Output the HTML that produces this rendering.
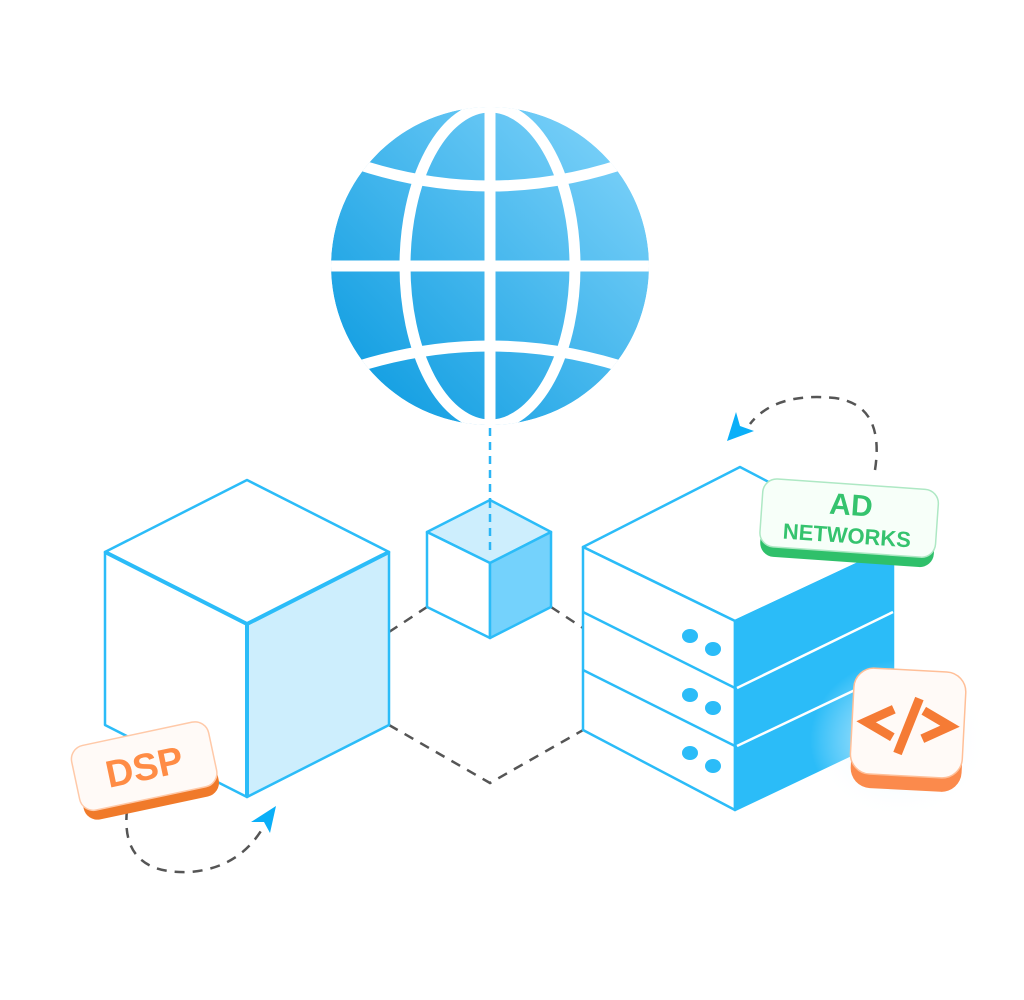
<!DOCTYPE html>
<html><head><meta charset="utf-8"><style>
html,body{margin:0;padding:0;background:#fff;width:1024px;height:1000px;overflow:hidden}
svg{display:block}
text{font-family:"Liberation Sans",sans-serif;font-weight:bold}
</style></head><body>
<svg width="1024" height="1000" viewBox="0 0 1024 1000" xmlns="http://www.w3.org/2000/svg">
<defs>
<linearGradient id="g" x1="0" y1="1" x2="1" y2="0">
<stop offset="0" stop-color="#0598df"/><stop offset="1" stop-color="#86d6fb"/>
</linearGradient>
<clipPath id="c"><circle cx="490" cy="266" r="159"/></clipPath>
<radialGradient id="glow" cx="0.5" cy="0.5" r="0.5"><stop offset="0" stop-color="#d6f0fd" stop-opacity="0.9"/><stop offset="1" stop-color="#fff" stop-opacity="0"/></radialGradient>
</defs>
<g clip-path="url(#c)">
<circle cx="490" cy="266" r="159" fill="url(#g)"/>
<g stroke="#fff" stroke-width="11" fill="none">
<line x1="490" y1="100" x2="490" y2="430"/>
<line x1="320" y1="266" x2="660" y2="266"/>
<ellipse cx="490" cy="266" rx="85" ry="159"/>
<path d="M320 150 Q490 222 660 150"/>
<path d="M320 380 Q490 312 660 380"/>
</g>
</g>
<line x1="490" y1="428" x2="490" y2="560" stroke="#2bb5f5" stroke-width="2.5" stroke-dasharray="8 6"/>
<g stroke="#555" stroke-width="2.5" stroke-dasharray="10 8" fill="none">
<line x1="389" y1="632" x2="427" y2="607"/>
<line x1="551" y1="607" x2="583" y2="628"/>
<polyline points="389,725 490,783 650,692"/>
<path d="M127 810 Q120 875 190 872 Q240 868 264 826"/>
<path d="M875 470 Q885 405 835 398 Q775 392 750 424"/>
</g>
<g stroke="#2bbcf8" stroke-width="2.5" stroke-linejoin="round">
<polygon points="247,480 389,552 247,624 105,552" fill="#fff"/>
<polygon points="105,552 247,624 247,797 105,725" fill="#fff"/>
<polygon points="247,624 389,552 389,725 247,797" fill="#cdeefd"/>
</g>
<line x1="105" y1="552" x2="247" y2="624" stroke="#2bbcf8" stroke-width="4"/>
<line x1="247" y1="624" x2="389" y2="552" stroke="#2bbcf8" stroke-width="4"/>
<line x1="247" y1="624" x2="247" y2="797" stroke="#2bbcf8" stroke-width="4"/>
<g stroke="#2bbcf8" stroke-width="2.5" stroke-linejoin="round">
<polygon points="490,500 551,532 490,563 427,532" fill="#cdeefd"/>
<polygon points="427,532 490,563 490,638 427,607" fill="#fff"/>
<polygon points="490,563 551,532 551,607 490,638" fill="#74d2fc"/>
</g>
<line x1="490" y1="500" x2="490" y2="555" stroke="#2bb5f5" stroke-width="2.5" stroke-dasharray="8 6"/>
<g stroke="#2bbcf8" stroke-width="2.5" stroke-linejoin="round">
<polygon points="740,467 893,547 735,621 583,547" fill="#fff"/>
<polygon points="583,547 735,621 735,810 583,730" fill="#fff"/>
<polygon points="735,621 893,547 893,735 735,810" fill="#2bbcf8"/>
<line x1="583" y1="612" x2="735" y2="688"/>
<line x1="583" y1="670" x2="735" y2="746"/>
</g>
<g stroke="#fff" stroke-width="2.5">
<line x1="737" y1="688" x2="893" y2="612"/>
<line x1="737" y1="746" x2="893" y2="672"/>
</g>
<g fill="#2bbcf8">
<ellipse cx="690" cy="636" rx="8" ry="7"/><ellipse cx="713" cy="649" rx="8" ry="7"/>
<ellipse cx="690" cy="695" rx="8" ry="7"/><ellipse cx="713" cy="708" rx="8" ry="7"/>
<ellipse cx="690" cy="753" rx="8" ry="7"/><ellipse cx="713" cy="766" rx="8" ry="7"/>
</g>
<polygon points="276,806 270,833 264,822 251,822" fill="#0aaff8"/>
<polygon points="727,441 736,412 740,426 754,431" fill="#0aaff8"/>
<g transform="rotate(-12 145 770)">
<rect x="77" y="743" width="138" height="66" rx="14" fill="#f07a2a"/>
<rect x="75" y="733" width="140" height="66" rx="14" fill="#fffaf7" stroke="#ffc9a8" stroke-width="1.5"/>
<text x="145" y="780" font-size="38" fill="#ff8c45" text-anchor="middle">DSP</text>
</g>
<g transform="rotate(4 848 520)">
<rect x="762" y="494" width="174" height="68" rx="14" fill="#2fc06a"/>
<rect x="761" y="484" width="176" height="68" rx="14" fill="#f7fff9" stroke="#aee8c4" stroke-width="1.5"/>
<text x="850" y="515" font-size="30" fill="#35c36e" text-anchor="middle">AD</text>
<text x="848" y="543" font-size="22" fill="#35c36e" text-anchor="middle">NETWORKS</text>
</g>
<ellipse cx="900" cy="740" rx="90" ry="80" fill="url(#glow)"/>
<g transform="rotate(3 908 725)">
<rect x="853" y="684" width="111" height="106" rx="20" fill="#fb8a4c"/>
<rect x="852" y="670" width="112" height="106" rx="20" fill="#fffaf7" stroke="#ffbf98" stroke-width="1.5"/>
<g stroke="#f57b35" stroke-width="9" fill="none" stroke-linejoin="miter">
<polyline points="893,710 866,724 893,738"/>
<polyline points="923,710 950,724 923,738"/>
<line x1="918" y1="698" x2="899" y2="754"/>
</g>
</g>
</svg>
</body></html>
